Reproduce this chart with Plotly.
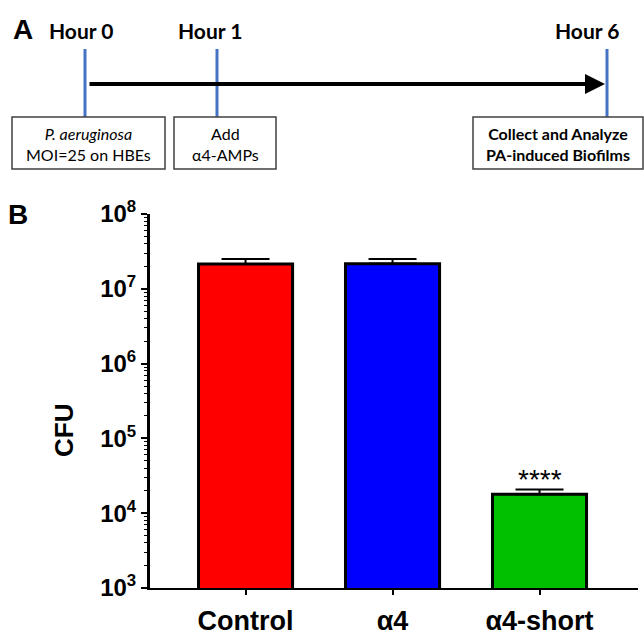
import math
import plotly.graph_objects as go

W, H = 644, 637

# ---- data (panel B) ----
categories = ["Control", "α4", "α4-short"]
cfu_mean = [2.14e7, 2.16e7, 1.79e4]
cfu_err = [0.36e7, 0.34e7, 0.29e4]
bar_colors = ["#FF0000", "#0000FF", "#00C000"]
significance = ["", "", "****"]
y_tick_exps = [3, 4, 5, 6, 7, 8]

# ---- timeline (panel A) ----
hour_labels = ["Hour 0", "Hour 1", "Hour 6"]
box_texts = [
    "<i>P. aeruginosa</i><br>MOI=25 on HBEs",
    "Add<br>α4-AMPs",
    "<b>Collect and Analyze<br>PA-induced Biofilms</b>",
]


def px(x):
    return x / W


def py(y):
    return 1 - y / H


fig = go.Figure()
fig.add_trace(go.Bar(
    x=categories,
    y=cfu_mean,
    marker=dict(color=bar_colors, line=dict(color="black", width=3)),
    error_y=dict(type="data", array=cfu_err, arrayminus=[0] * len(cfu_err),
                 symmetric=False, color="black", thickness=2, width=24),
    showlegend=False,
))

for cat, m, e, s in zip(categories, cfu_mean, cfu_err, significance):
    if s:
        fig.add_annotation(x=cat, y=math.log10(m + e), xref="x", yref="y",
                           text=s, showarrow=False, xanchor="center",
                           yanchor="bottom", yshift=-8,
                           font=dict(family="Liberation Sans, Arial", size=28, color="black"))

fig.update_layout(
    width=W, height=H,
    margin=dict(l=0, r=0, t=0, b=0, autoexpand=False),
    paper_bgcolor="white", plot_bgcolor="white",
    bargap=0.36,
    xaxis=dict(
        domain=[px(150), px(638)],
        range=[-0.65, 2.67],
        automargin=False,
        showline=True, linecolor="black", linewidth=2,
        ticks="outside", ticklen=5, tickwidth=2, tickcolor="black",
        ticklabelstandoff=3,
        tickfont=dict(family="Liberation Sans, Arial", size=27, color="black", weight="bold"),
        showgrid=False, zeroline=False,
    ),
    yaxis=dict(
        domain=[py(588), py(214)],
        type="log", range=[3, 8],
        automargin=False,
        tickvals=[10 ** e for e in y_tick_exps],
        ticktext=[f"10<sup>{e}</sup>" for e in y_tick_exps],
        showline=True, linecolor="black", linewidth=3,
        ticks="outside", ticklen=6, tickwidth=2, tickcolor="black",
        tickfont=dict(family="Liberation Sans, Arial", size=24, color="black", weight="bold"),
        minor=dict(ticks="outside", ticklen=3, tickwidth=1, tickcolor="black", dtick="D1"),
        showgrid=False, zeroline=False,
    ),
)

# y-axis title
fig.add_annotation(x=px(64), y=py(430), xref="paper", yref="paper", text="<b>CFU</b>",
                   textangle=-90, showarrow=False, xanchor="center", yanchor="middle",
                   font=dict(family="Liberation Sans, Arial", size=26, color="black"))

# panel letters
for letter, (lx, ly) in zip(["A", "B"], [(23, 30), (18, 214)]):
    fig.add_annotation(x=px(lx), y=py(ly), xref="paper", yref="paper", text=f"<b>{letter}</b>",
                       showarrow=False, xanchor="center", yanchor="middle",
                       font=dict(family="Liberation Sans, Arial", size=28, color="black"))

# timeline
line_x = [85, 217, 607]
label_x = [81, 210, 587]
boxes = [(12, 165), (174, 276), (473, 643)]
for lbl, lx, cx in zip(hour_labels, line_x, label_x):
    fig.add_annotation(x=px(cx), y=py(31), xref="paper", yref="paper", text=f"<b>{lbl}</b>",
                       showarrow=False, xanchor="center", yanchor="middle",
                       font=dict(family="Lato, Open Sans", size=21, color="black"))
    fig.add_shape(type="line", xref="paper", yref="paper", x0=px(lx), x1=px(lx),
                  y0=py(49), y1=py(117), line=dict(color="#4472C4", width=3))

fig.add_annotation(x=px(605), y=py(84), xref="paper", yref="paper", ax=-(605 - 88), ay=0,
                   axref="pixel", ayref="pixel", showarrow=True, arrowhead=2, arrowsize=1,
                   arrowwidth=4, arrowcolor="black", text="")

for (bx0, bx1), txt in zip(boxes, box_texts):
    fig.add_shape(type="rect", xref="paper", yref="paper", x0=px(bx0), x1=px(bx1),
                  y0=py(169), y1=py(117), line=dict(color="#404040", width=1.5),
                  fillcolor="white")
    fig.add_annotation(x=px((bx0 + bx1) / 2), y=py(144), xref="paper", yref="paper", text=txt,
                       showarrow=False, align="center", xanchor="center", yanchor="middle",
                       font=dict(family="Lato, Open Sans", size=16, color="black"))

fig.write_html("out.html", config={"displayModeBar": False},
               post_script="document.body.style.margin='0';document.body.style.overflow='hidden';")
